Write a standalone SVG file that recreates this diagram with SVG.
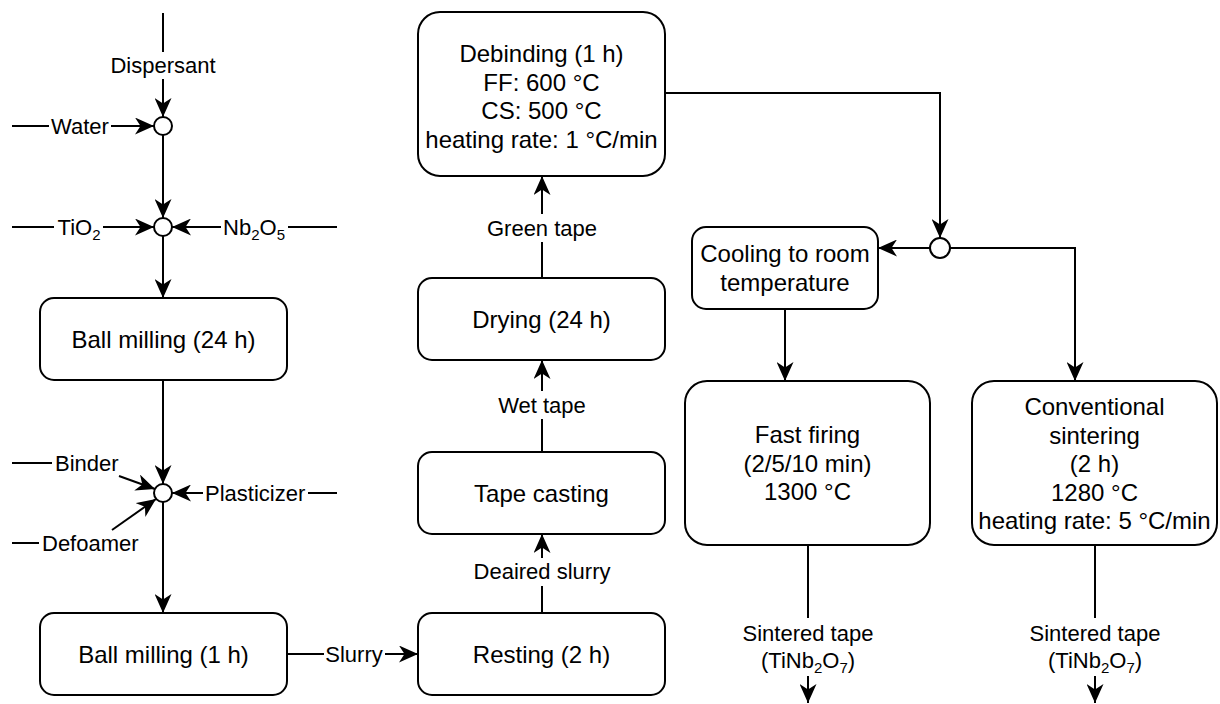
<svg xmlns="http://www.w3.org/2000/svg" width="1220" height="704" viewBox="0 0 1220 704">
<style>
.box{fill:#fff;stroke:#000;stroke-width:2}
.ln{fill:none;stroke:#000;stroke-width:2}
.ar{fill:none;stroke:#000;stroke-width:2;marker-end:url(#arr)}
.jn{fill:#fff;stroke:#000;stroke-width:2}
.bt{font-family:"Liberation Sans",Arial,sans-serif;font-size:24px;fill:#000;text-anchor:middle}
.lt{font-family:"Liberation Sans",Arial,sans-serif;font-size:22px;fill:#000;text-anchor:middle}
.ls{font-family:"Liberation Sans",Arial,sans-serif;font-size:22px;fill:#000;text-anchor:start}
.sub{font-size:15px}
</style>
<defs>
<marker id="arr" viewBox="0 0 19 17" refX="19" refY="8.5" markerWidth="19" markerHeight="17" orient="auto" markerUnits="userSpaceOnUse">
<path d="M0,0 L19,8.5 L0,17 L5.5,8.5 Z" fill="#000"/>
</marker>
</defs>
<rect width="1220" height="704" fill="#fff"/>

<g id="connectors">
<path class="ln" d="M163,13 V52"/>
<path class="ar" d="M163,79 V117"/>
<path class="ln" d="M12,126 H49"/>
<path class="ar" d="M111,126 H154"/>
<path class="ar" d="M163,135 V218"/>
<path class="ln" d="M12,227 H54"/>
<path class="ar" d="M103,227 H154"/>
<path class="ln" d="M288,227 H337"/>
<path class="ar" d="M221,227 H172"/>
<path class="ar" d="M163,236 V298"/>
<path class="ar" d="M163,380 V484"/>
<path class="ln" d="M12,463 H52"/>
<path class="ar" d="M119,476 L155,489"/>
<path class="ln" d="M12,543 H39"/>
<path class="ar" d="M112,530 L156,499"/>
<path class="ln" d="M308,493 H337"/>
<path class="ar" d="M203,493 H172"/>
<path class="ar" d="M163,502 V613"/>
<path class="ln" d="M287,654 H324"/>
<path class="ar" d="M385,654 H418"/>
<path class="ln" d="M542,613 V586"/>
<path class="ar" d="M542,558 V534"/>
<path class="ln" d="M542,452 V419"/>
<path class="ar" d="M542,391 V360"/>
<path class="ln" d="M542,278 V242"/>
<path class="ar" d="M542,214 V176"/>
<path class="ar" d="M665,93 H940 V238"/>
<path class="ar" d="M930,248 H878"/>
<path class="ar" d="M950,248 H1075 V381"/>
<path class="ar" d="M785,309 V381"/>
<path class="ln" d="M808,545 V618"/>
<path class="ar" d="M808,676 V703"/>
<path class="ln" d="M1095,545 V618"/>
<path class="ar" d="M1095,676 V703"/>

<text class="lt" x="163" y="73">Dispersant</text>
<text class="lt" x="80" y="134">Water</text>
<text class="lt" x="79" y="235">TiO<tspan class="sub" dy="5">2</tspan></text>
<text class="lt" x="254" y="235">Nb<tspan class="sub" dy="5">2</tspan><tspan dy="-5">O</tspan><tspan class="sub" dy="5">5</tspan></text>
<text class="ls" x="55" y="471">Binder</text>
<text class="ls" x="42" y="551">Defoamer</text>
<text class="ls" x="205" y="501">Plasticizer</text>
<text class="lt" x="354" y="662">Slurry</text>
<text class="lt" x="542" y="579">Deaired slurry</text>
<text class="lt" x="542" y="413">Wet tape</text>
<text class="lt" x="542" y="236">Green tape</text>
<text class="lt" x="808" y="641">Sintered tape</text>
<text class="lt" x="808" y="668">(TiNb<tspan class="sub" dy="5">2</tspan><tspan dy="-5">O</tspan><tspan class="sub" dy="5">7</tspan><tspan dy="-5">)</tspan></text>
<text class="lt" x="1095" y="641">Sintered tape</text>
<text class="lt" x="1095" y="668">(TiNb<tspan class="sub" dy="5">2</tspan><tspan dy="-5">O</tspan><tspan class="sub" dy="5">7</tspan><tspan dy="-5">)</tspan></text>
</g>

<g id="j1"><circle class="jn" cx="163" cy="126" r="9"/></g>
<g id="j2"><circle class="jn" cx="163" cy="227" r="9"/></g>
<g id="j3"><circle class="jn" cx="163" cy="493" r="9"/></g>
<g id="j4"><circle class="jn" cx="940" cy="248" r="10"/></g>

<g id="ballmill24">
<rect class="box" x="40" y="298" width="247" height="82" rx="14"/>
<text class="bt" x="163.5" y="347.5">Ball milling (24 h)</text>
</g>
<g id="ballmill1">
<rect class="box" x="40" y="613" width="247" height="82" rx="14"/>
<text class="bt" x="163.5" y="662.5">Ball milling (1 h)</text>
</g>
<g id="resting">
<rect class="box" x="418" y="613" width="247" height="82" rx="14"/>
<text class="bt" x="541.5" y="662.5">Resting (2 h)</text>
</g>
<g id="tapecasting">
<rect class="box" x="418" y="452" width="247" height="82" rx="14"/>
<text class="bt" x="541.5" y="501.5">Tape casting</text>
</g>
<g id="drying">
<rect class="box" x="418" y="278" width="247" height="82" rx="14"/>
<text class="bt" x="541.5" y="327.5">Drying (24 h)</text>
</g>
<g id="debinding">
<rect class="box" x="418" y="12" width="247" height="164" rx="22"/>
<text class="bt" x="541.5" y="62">Debinding (1 h)</text>
<text class="bt" x="541.5" y="90.5">FF: 600 °C</text>
<text class="bt" x="541.5" y="119">CS: 500 °C</text>
<text class="bt" x="541.5" y="147.5">heating rate: 1 °C/min</text>
</g>
<g id="cooling">
<rect class="box" x="692" y="227" width="186" height="82" rx="14"/>
<text class="bt" x="785" y="262">Cooling to room</text>
<text class="bt" x="785" y="291">temperature</text>
</g>
<g id="fastfiring">
<rect class="box" x="685" y="381" width="245" height="164" rx="22"/>
<text class="bt" x="807.5" y="443">Fast firing</text>
<text class="bt" x="807.5" y="471.5">(2/5/10 min)</text>
<text class="bt" x="807.5" y="500">1300 °C</text>
</g>
<g id="conventional">
<rect class="box" x="972" y="381" width="245" height="164" rx="22"/>
<text class="bt" x="1094.5" y="415">Conventional</text>
<text class="bt" x="1094.5" y="443.5">sintering</text>
<text class="bt" x="1094.5" y="472">(2 h)</text>
<text class="bt" x="1094.5" y="500.5">1280 °C</text>
<text class="bt" x="1094.5" y="529">heating rate: 5 °C/min</text>
</g>
</svg>
